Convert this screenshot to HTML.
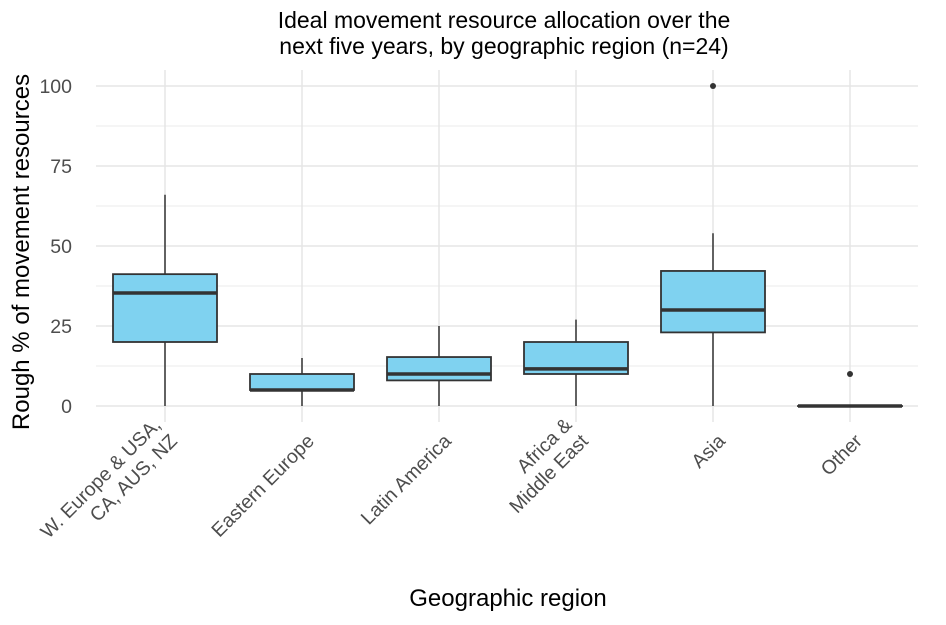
<!DOCTYPE html>
<html><head><meta charset="utf-8"><style>
body{margin:0;background:#fff;font-family:"Liberation Sans",sans-serif}
</style></head><body>
<svg width="946" height="620" id="chart" xmlns="http://www.w3.org/2000/svg" font-family="Liberation Sans, sans-serif">
<text x="504" y="28" text-anchor="middle" font-size="23" fill="#000">Ideal movement resource allocation over the</text>
<text x="504" y="54" text-anchor="middle" font-size="23" fill="#000">next five years, by geographic region (n=24)</text>
<text transform="translate(29,252) rotate(-90)" text-anchor="middle" font-size="24" fill="#000">Rough % of movement resources</text>
<text x="508" y="606" text-anchor="middle" font-size="24" fill="#000">Geographic region</text>
<g id="grid"></g><g id="marks"></g><g id="labels"></g>
</svg>
<script>
const categories=[["W. Europe & USA,","CA, AUS, NZ"],["Eastern Europe"],["Latin America"],["Africa &","Middle East"],["Asia"],["Other"]];
const whiskerLow=[0,0,0,0,0,0];
const q1=[20,5,8,10,23,0];
const median=[35.3,5,10,11.6,30,0];
const q3=[41.2,10,15.3,20,42.2,0];
const whiskerHigh=[66,15,25,27,54,0];
const outliers=[[],[],[],[],[100],[10]];
const yTicks=[0,25,50,75,100];
const NS="http://www.w3.org/2000/svg";
const y=v=>406-v*3.2;
const x=i=>165+i*137;
const bw=104;
function mk(tag,attrs,parent){const e=document.createElementNS(NS,tag);for(const k in attrs)e.setAttribute(k,attrs[k]);document.getElementById(parent).appendChild(e);return e;}
for(let v=12.5;v<=100;v+=25){const g=mk('line',{x1:96,x2:918,y1:y(v),y2:y(v),stroke:'#ebebeb','stroke-width':1},'grid');}
yTicks.forEach(t=>{const g=mk('line',{x1:96,x2:918,y1:y(t),y2:y(t),stroke:'#e5e5e5','stroke-width':1.5},'grid');
const l=mk('text',{x:72,y:y(t)+7,'text-anchor':'end','font-size':19.5,fill:'#4d4d4d'},'labels');l.textContent=t;});
categories.forEach((c,i)=>{const g=mk('line',{x1:x(i),x2:x(i),y1:70,y2:422,stroke:'#e5e5e5','stroke-width':1.5},'grid');
const w=mk('line',{x1:x(i),x2:x(i),y1:y(whiskerLow[i]),y2:y(whiskerHigh[i]),stroke:'#333','stroke-width':1.5},'marks');
const b=mk('rect',{x:x(i)-bw/2,y:y(q3[i]),width:bw,height:Math.max(y(q1[i])-y(q3[i]),0.1),fill:'#7fd2f0',stroke:'#333','stroke-width':1.8},'marks');
const m=mk('line',{x1:x(i)-bw/2,x2:x(i)+bw/2,y1:y(median[i]),y2:y(median[i]),stroke:'#333','stroke-width':3.5},'marks');
outliers[i].forEach(o=>{const p=mk('circle',{cx:x(i),cy:y(o),r:3,fill:'#333'},'marks');});
const t=mk('text',{transform:`translate(${x(i)+9},${438}) rotate(-45)`,'text-anchor':'end','font-size':19.5,fill:'#4d4d4d'},'labels');


c.forEach((line,k)=>{const ts=document.createElementNS(NS,'tspan');ts.setAttribute('x',0);ts.setAttribute('y',(k-(c.length-1))*23+6);ts.textContent=line;t.appendChild(ts);});
});
</script>
</body></html>
